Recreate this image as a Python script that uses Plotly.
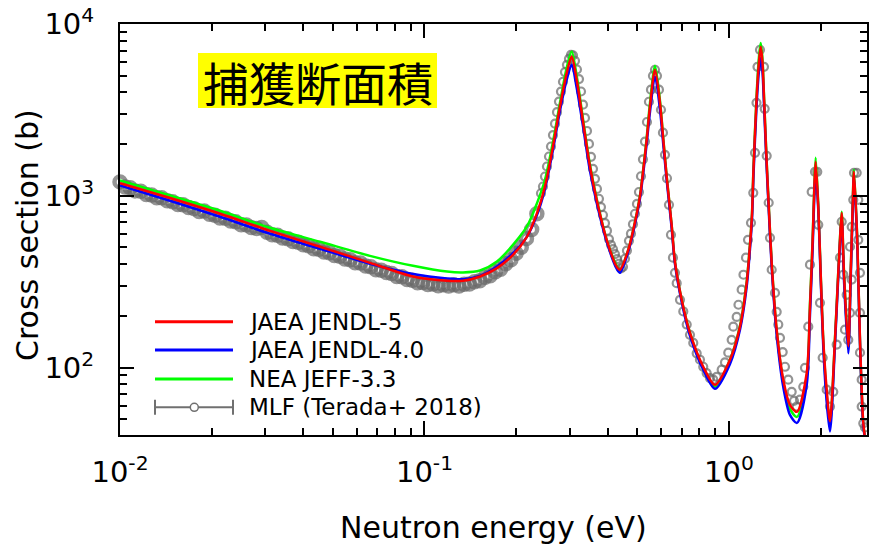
import plotly.graph_objects as go

# ---------------- data ----------------
# evaluated-library curves on a common energy grid (eV) / capture cross section (b)
e_eval = [0.0100, 0.0146, 0.0213, 0.0311, 0.0454, 0.0662, 0.0917, 0.1186, 0.1338, 0.1522,
          0.1730, 0.1953, 0.2171, 0.2342, 0.2487, 0.2642, 0.2786, 0.2931, 0.3043, 0.3161,
          0.3322, 0.3495, 0.3677, 0.3966, 0.4277, 0.4385, 0.4670, 0.4850, 0.5100, 0.5231,
          0.5366, 0.5503, 0.5715, 0.5936, 0.6086, 0.6242, 0.6482, 0.6646, 0.6994, 0.7446,
          0.8233, 0.8995, 1.0076, 1.0867, 1.1431, 1.1722, 1.1900, 1.2036, 1.2330, 1.2546,
          1.2709, 1.2883, 1.3030, 1.3299, 1.3462, 1.3811, 1.4344, 1.5076, 1.5860, 1.6721,
          1.8000, 1.8450, 1.8831, 1.9058, 1.9261, 1.9646, 2.0003, 2.0403, 2.0935, 2.1463,
          2.2289, 2.2851, 2.3147, 2.3447, 2.3862, 2.4650, 2.5103, 2.5481, 2.5734, 2.6383,
          2.6929, 2.7613, 2.8180]

xs_jendl5 = [1186, 970, 786, 625, 505, 407, 339, 320, 320, 339,
             379, 453, 579, 793, 1133, 1937, 3313, 5184, 6475, 4739,
             2651, 1481, 948, 554, 387, 371, 485, 634, 991, 1420,
             2120, 3313, 5420, 3467, 2120, 1295, 678, 413, 248, 159,
             101, 79.3, 111, 173, 311, 518, 775, 1420, 3773, 6030,
             7375, 6030, 3773, 1557, 987, 407, 166, 84.9, 60.6, 55.2,
             92.8, 227, 554, 1083, 1578, 866, 355, 145, 74.3, 48.7,
             145, 355, 554, 793, 355, 133, 355, 866, 1380, 554,
             145, 47.6, 35.5]

xs_jendl4 = [1150, 935, 755, 601, 491, 402, 350, 330, 327, 342,
             387, 464, 579, 775, 1098, 1850, 3126, 4739, 5794, 4256,
             2489, 1398, 911, 540, 376, 356, 472, 617, 960, 1362,
             2009, 3085, 4955, 3170, 1982, 1240, 651, 402, 241, 153,
             97.1, 75.2, 105, 166, 295, 491, 725, 1308, 3434, 5346,
             6340, 5276, 3434, 1456, 935, 386, 155, 77.2, 53.0, 47.6,
             79.3, 203, 498, 974, 1420, 829, 333, 132, 63.1, 42.4,
             136, 337, 525, 745, 325, 121, 325, 807, 1308, 525,
             139, 45.8, 35.5]

xs_jeff33 = [1228, 1004, 818, 651, 540, 447, 391, 362, 358, 367,
             414, 518, 663, 907, 1240, 2063, 3480, 5566, 6925, 5000,
             2734, 1515, 960, 554, 391, 366, 485, 634, 1000, 1437,
             2177, 3480, 5717, 3575, 2148, 1308, 678, 413, 248, 159,
             98.7, 77.2, 111, 175, 316, 525, 786, 1456, 3928, 6450,
             7750, 6280, 3875, 1578, 1000, 413, 164, 82.6, 57.4, 51.6,
             88.3, 235, 569, 1113, 1665, 886, 356, 143, 69.3, 47.0,
             147, 361, 562, 807, 361, 134, 356, 886, 1420, 554,
             143, 47.0, 35.5]

# MLF measurement (Terada+ 2018)
e_mlf = [0.0100, 0.0104, 0.0108, 0.0112, 0.0117, 0.0122, 0.0127, 0.0132, 0.0137, 0.0143,
         0.0149, 0.0155, 0.0161, 0.0168, 0.0175, 0.0182, 0.0189, 0.0197, 0.0205, 0.0213,
         0.0222, 0.0231, 0.0240, 0.0250, 0.0260, 0.0270, 0.0281, 0.0292, 0.0304, 0.0316,
         0.0329, 0.0342, 0.0356, 0.0370, 0.0385, 0.0400, 0.0416, 0.0433, 0.0450, 0.0468,
         0.0487, 0.0506, 0.0527, 0.0548, 0.0570, 0.0592, 0.0616, 0.0641, 0.0666, 0.0693,
         0.0721, 0.0750, 0.0780, 0.0811, 0.0843, 0.0877, 0.0912, 0.0949, 0.0987, 0.1026,
         0.1067, 0.1110, 0.1154, 0.1200, 0.1248, 0.1298, 0.1350, 0.1404, 0.1460, 0.1519,
         0.1580, 0.1643, 0.1709, 0.1777, 0.1848, 0.1922, 0.1999, 0.2079, 0.2162, 0.2249,
         0.2339, 0.2413, 0.2450, 0.2487, 0.2525, 0.2564, 0.2603, 0.2642, 0.2683, 0.2724,
         0.2765, 0.2807, 0.2850, 0.2893, 0.2937, 0.2982, 0.3028, 0.3074, 0.3121, 0.3168,
         0.3217, 0.3266, 0.3315, 0.3366, 0.3417, 0.3469, 0.3522, 0.3576, 0.3630, 0.3685,
         0.3741, 0.3798, 0.3856, 0.3915, 0.3975, 0.4035, 0.4097, 0.4159, 0.4222, 0.4287,
         0.4352, 0.4418, 0.4486, 0.4554, 0.4623, 0.4694, 0.4765, 0.4838, 0.4912, 0.4987,
         0.5063, 0.5140, 0.5218, 0.5298, 0.5378, 0.5460, 0.5544, 0.5628, 0.5714, 0.5801,
         0.5889, 0.5979, 0.6070, 0.6163, 0.6257, 0.6352, 0.6449, 0.6547, 0.6647, 0.6734,
         0.6905, 0.7079, 0.7264, 0.7446, 0.7634, 0.7833, 0.8030, 0.8233, 0.8448, 0.8661,
         0.8881, 0.9113, 0.9463, 0.9702, 0.9947, 1.0206, 1.0330, 1.0600, 1.0744, 1.1007,
         1.1158, 1.1372, 1.1547, 1.1811, 1.2018, 1.2174, 1.2313, 1.2406, 1.2643, 1.3031,
         1.3100, 1.3300, 1.3503, 1.3637, 1.3813, 1.4162, 1.4345, 1.4520, 1.4708, 1.5011,
         1.5274, 1.5659, 1.6067, 1.6349, 1.6686, 1.7108, 1.7539, 1.7766, 1.8215, 1.8450,
         1.8689, 1.9162, 1.9498, 1.9646, 1.9901, 2.0312, 2.0936, 2.1465, 2.2007, 2.2580,
         2.3150, 2.3450, 2.3735, 2.4042, 2.4353, 2.4650, 2.4970, 2.4970, 2.5294, 2.5294,
         2.5601, 2.5737, 2.6268, 2.6588, 2.6588, 2.6931, 2.6931, 2.6931, 2.7279, 2.7279,
         2.7611, 2.7969]

xs_mlf = [1205, 1125, 1113, 1068, 1063, 1018, 1010, 973, 973, 935,
          922, 889, 888, 854, 842, 811, 816, 780, 770, 743,
          740, 713, 705, 679, 677, 653, 645, 653, 614, 594,
          590, 568, 562, 541, 537, 518, 511, 492, 489, 471,
          466, 449, 445, 429, 424, 408, 406, 390, 386, 371,
          369, 357, 353, 339, 338, 325, 322, 312, 313, 304,
          306, 299, 303, 298, 303, 298, 305, 306, 316, 320,
          335, 342, 361, 374, 402, 424, 463, 502, 563, 637,
          787, 1035, 1133, 1295, 1481, 1694, 1937, 2258, 2630, 3070,
          3540, 4045, 4615, 5255, 5790, 6275, 6620, 6575, 6110, 5440,
          4785, 4050, 3393, 2840, 2385, 2005, 1686, 1435, 1255, 1096,
          961, 860, 773, 693, 626, 560, 518, 489, 457, 428,
          402, 378, 386, 430, 480, 547, 602, 683, 786, 897,
          1052, 1300, 1631, 2070, 2690, 3530, 4150, 5000, 5420, 5000,
          4150, 3170, 2330, 1733, 1265, 886, 593, 436, 356, 310,
          248, 212, 178, 155, 139, 121, 111, 101, 92.8, 86.8,
          84.9, 88.3, 97.1, 107, 122, 145, 173, 197, 232, 284,
          347, 436, 554, 696, 1041, 1780, 3480, 5640, 7080, 5640,
          3212, 1710, 911, 569, 371, 272, 211, 178, 149, 123,
          101, 84.9, 72.2, 64.0, 59.2, 65.0, 77.2, 99.6, 173, 397,
          1055, 1380, 1380, 678, 238, 114, 74.3, 59.2, 72.2, 136,
          436, 706, 347, 166, 265, 145, 208, 505, 325, 660,
          948, 1361, 1361, 948, 554, 356, 208, 122, 84.9, 59.2,
          47.3, 44.8]

series_names = ["JAEA JENDL-5", "JAEA JENDL-4.0", "NEA JEFF-3.3", "MLF (Terada+ 2018)"]
series_colors = ["#ff0000", "#0000ff", "#00ff00", "#666666"]
title_text = "捕獲断面積"

x_tickvals = [0.01, 0.1, 1]
x_ticktext = ["10<sup>-2</sup>", "10<sup>-1</sup>", "10<sup>0</sup>"]
x_minor = [0.02, 0.03, 0.04, 0.05, 0.06, 0.07, 0.08, 0.09,
           0.2, 0.3, 0.4, 0.5, 0.6, 0.7, 0.8, 0.9, 2]
y_tickvals = [100, 1000, 10000]
y_ticktext = ["10<sup>2</sup>", "10<sup>3</sup>", "10<sup>4</sup>"]
y_minor = [50, 60, 70, 80, 90, 200, 300, 400, 500, 600, 700, 800, 900,
           2000, 3000, 4000, 5000, 6000, 7000, 8000, 9000]

# ---------------- figure ----------------
W, H = 869, 547
ML, MR, MT, MB = 120, 2, 24, 112
PW, PH = W - ML - MR, H - MT - MB


def px(xp):  # page pixel x -> paper x
    return (xp - ML) / PW


def py(yp):  # page pixel y -> paper y
    return (MT + PH - yp) / PH


# thicker rings where the measured points are very dense (low energy band)
mlf_sizes = [11 if e < 0.24 else 8 for e in e_mlf]
mlf_widths = [4.5 if e < 0.24 else 2.2 for e in e_mlf]

fig = go.Figure()
fig.add_trace(go.Scatter(
    x=e_mlf, y=xs_mlf, mode="markers", name=series_names[3], showlegend=False,
    marker=dict(symbol="circle-open", size=mlf_sizes, color=series_colors[3],
                line=dict(width=mlf_widths, color=series_colors[3])),
    cliponaxis=False))
for xs, col, nm in [(xs_jeff33, series_colors[2], series_names[2]),
                    (xs_jendl4, series_colors[1], series_names[1]),
                    (xs_jendl5, series_colors[0], series_names[0])]:
    fig.add_trace(go.Scatter(x=e_eval, y=xs, mode="lines", name=nm, showlegend=False,
                             line=dict(color=col, width=2.5, shape="spline", smoothing=0.8)))

font_main = "DejaVu Sans"
axis_common = dict(type="log", showgrid=False, zeroline=False, showline=True,
                   linecolor="black", linewidth=2, mirror="ticks", ticks="inside",
                   ticklen=14, tickwidth=1.5, tickcolor="black",
                   tickfont=dict(family=font_main, size=29, color="black"))
fig.update_xaxes(**axis_common, range=[-2, 0.4533], tickmode="array",
                 tickvals=x_tickvals, ticktext=x_ticktext, ticklabelstandoff=10,
                 minor=dict(tickmode="array", tickvals=x_minor, ticks="inside",
                            ticklen=7, tickwidth=1.5, tickcolor="black", showgrid=False))
fig.update_yaxes(**axis_common, range=[1.607, 4.0005], tickmode="array",
                 tickvals=y_tickvals, ticktext=y_ticktext, ticklabelstandoff=18,
                 minor=dict(tickmode="array", tickvals=y_minor, ticks="inside",
                            ticklen=7, tickwidth=1.5, tickcolor="black", showgrid=False))

shapes = []
annotations = []
# title box
shapes.append(dict(type="rect", xref="paper", yref="paper", x0=px(198), x1=px(437),
                   y0=py(108), y1=py(53), fillcolor="#ffff00", line=dict(width=0), layer="below"))
annotations.append(dict(xref="paper", yref="paper", x=px(317.5), y=py(81), text=title_text,
                        showarrow=False, xanchor="center", yanchor="middle",
                        font=dict(family="Noto Sans CJK JP", size=46, color="black")))
# legend (drawn manually)
rows = [321.7, 350, 379, 407.3]
for i in range(3):
    shapes.append(dict(type="line", xref="paper", yref="paper", x0=px(155), x1=px(233),
                       y0=py(rows[i]), y1=py(rows[i]), line=dict(color=series_colors[i], width=3)))
r = rows[3]
shapes.append(dict(type="line", xref="paper", yref="paper", x0=px(155), x1=px(233),
                   y0=py(r), y1=py(r), line=dict(color="#707070", width=2)))
for xe in (155, 233):
    shapes.append(dict(type="line", xref="paper", yref="paper", x0=px(xe), x1=px(xe),
                       y0=py(r + 7.5), y1=py(r - 7.5), line=dict(color="#707070", width=2)))
shapes.append(dict(type="circle", xref="paper", yref="paper", x0=px(190.3), x1=px(198.3),
                   y0=py(r + 4), y1=py(r - 4), fillcolor="white",
                   line=dict(color="#707070", width=1.5)))
for i in range(4):
    annotations.append(dict(xref="paper", yref="paper", x=px(247), y=py(rows[i]),
                            text=series_names[i], showarrow=False, xanchor="left", yanchor="middle",
                            font=dict(family=font_main, size=23, color="black")))
# axis titles
annotations.append(dict(xref="paper", yref="paper", x=px(493.5), y=py(527), text="Neutron energy (eV)",
                        showarrow=False, xanchor="center", yanchor="middle",
                        font=dict(family=font_main, size=30, color="black")))
annotations.append(dict(xref="paper", yref="paper", x=px(28), y=py(235), text="Cross section (b)",
                        showarrow=False, xanchor="center", yanchor="middle", textangle=-90,
                        font=dict(family=font_main, size=30, color="black")))

fig.update_layout(width=W, height=H, margin=dict(l=ML, r=MR, t=MT, b=MB, autoexpand=False),
                  plot_bgcolor="white", paper_bgcolor="white", showlegend=False,
                  shapes=shapes, annotations=annotations)

# remove the default page margin so the figure fills the 869x547 window exactly
fig.write_html("out.html", config={"responsive": False, "displayModeBar": False},
               post_script="document.body.style.margin='0';document.body.style.overflow='hidden';")
